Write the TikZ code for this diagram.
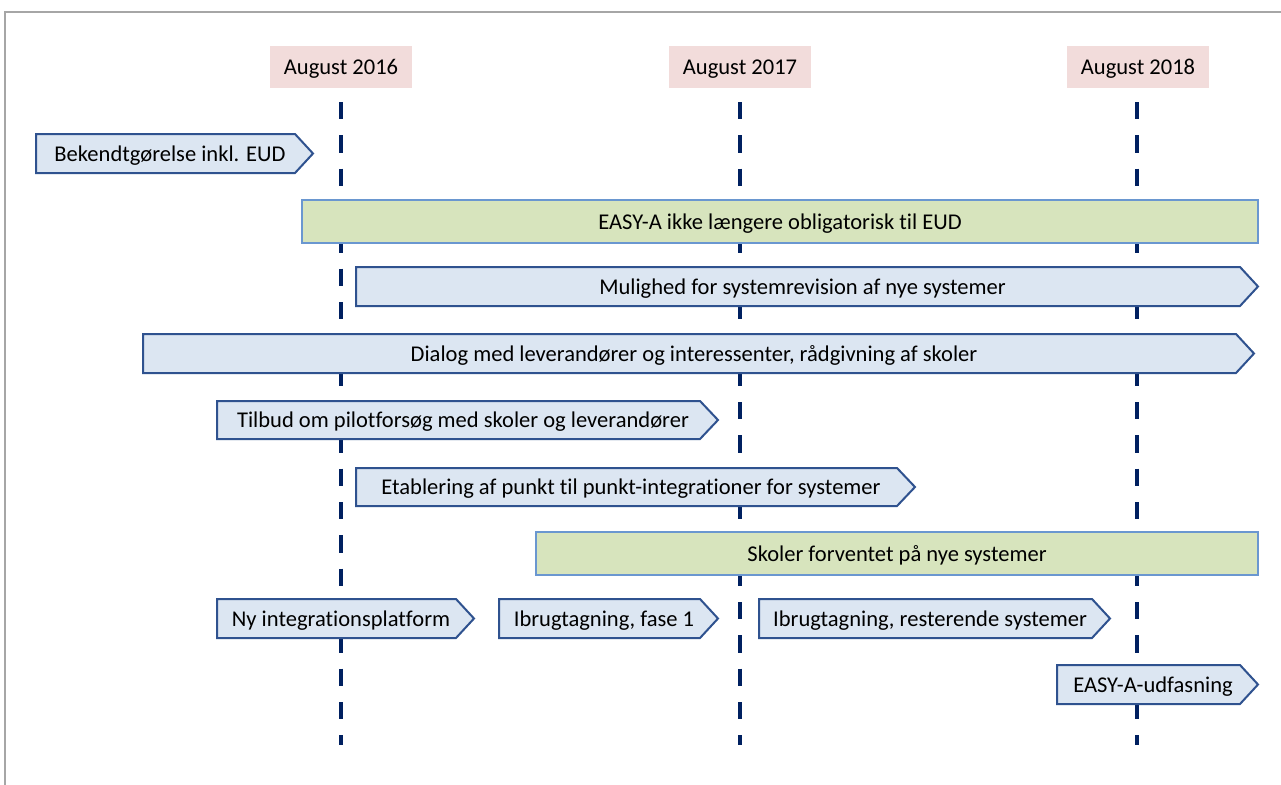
\documentclass[tikz,border=0pt]{standalone}
\usepackage{fontspec}
\setmainfont{Carlito}[Ligatures={NoCommon}]
\definecolor{frame}{HTML}{A6A6A6}
\definecolor{pinkfill}{HTML}{F2DCDB}
\definecolor{navy}{HTML}{002060}
\definecolor{bluefill}{HTML}{DCE6F2}
\definecolor{bluedraw}{HTML}{2F528F}
\definecolor{greenfill}{HTML}{D7E4BD}
\definecolor{greendraw}{HTML}{6A97D0}
\tikzset{
  lbl/.style={font=\fontsize{16.9pt}{19pt}\selectfont, text=black, inner sep=0pt, yshift=-1.5pt},
  hdr/.style={fill=pinkfill, draw=none},
  tline/.style={draw=navy, line width=3pt, dash pattern=on 13pt off 12pt},
  arrowbox/.style={fill=bluefill, draw=bluedraw, line width=1.5pt, line join=miter},
  greenbox/.style={fill=greenfill, draw=greendraw, line width=1.5pt},
}
% \tarrow{name}{x1}{y1}{x2}{y2}{text}
\newcommand{\tarrow}[6]{%
  \draw[arrowbox] (#2,#3) -- (#4-18,#3) -- (#4,{(#3+#5)/2}) -- (#4-18,#5) -- (#2,#5) -- cycle;
  \node[lbl] (#1) at ({(#2+#4-9)/2},{(#3+#5)/2}) {#6};
}
\newcommand{\tgreen}[6]{%
  \draw[greenbox] (#2,#3) rectangle (#4,#5);
  \node[lbl] (#1) at ({(#2+#4)/2},{(#3+#5)/2}) {#6};
}
\begin{document}
\begin{tikzpicture}[x=0.75pt,y=-0.75pt]
\useasboundingbox (0,0) rectangle (1281,785);
\clip (0,0) rectangle (1281,785);
\fill[white] (0,0) rectangle (1281,785);
\draw[frame, line width=1.5pt] (5,12) rectangle (1300,800);
% headers
\fill[hdr] (270,46) rectangle (412,88);
\node[lbl] (h1) at (341,67) {August 2016};
\fill[hdr] (669,46) rectangle (811,88);
\node[lbl] (h2) at (740,67) {August 2017};
\fill[hdr] (1067,46) rectangle (1209,88);
\node[lbl] (h3) at (1138,67) {August 2018};
% timelines
\coordinate (t1a) at (341,102); \coordinate (t1b) at (341,745);
\coordinate (t2a) at (740,102); \coordinate (t2b) at (740,745);
\coordinate (t3a) at (1137,102); \coordinate (t3b) at (1137,745);
\draw[tline] (t1a) -- (t1b);
\draw[tline] (t2a) -- (t2b);
\draw[tline] (t3a) -- (t3b);
% bars
\tarrow{b1}{36}{134}{313}{173}{Bekendtgørelse inkl. EUD}
\tgreen{g1}{302}{200}{1258}{243}{EASY-A ikke længere obligatorisk til EUD}
\tarrow{b2}{356}{267}{1258}{306}{Mulighed for systemrevision af nye systemer}
\tarrow{b3}{143}{334}{1254}{373}{Dialog med leverandører og interessenter, rådgivning af skoler}
\tarrow{b4}{217}{401}{718}{439}{Tilbud om pilotforsøg med skoler og leverandører}
\tarrow{b5}{356}{468}{915}{506}{Etablering af punkt til punkt-integrationer for systemer}
\tgreen{g2}{536}{532}{1258}{575}{Skoler forventet på nye systemer}
\tarrow{b6}{217}{599}{474}{638}{Ny integrationsplatform}
\tarrow{b7}{499}{599}{718}{638}{Ibrugtagning, fase 1}
\tarrow{b8}{759}{599}{1110}{638}{Ibrugtagning, resterende systemer}
\tarrow{b9}{1057}{665}{1258}{704}{EASY-A-udfasning}
\end{tikzpicture}
\end{document}
